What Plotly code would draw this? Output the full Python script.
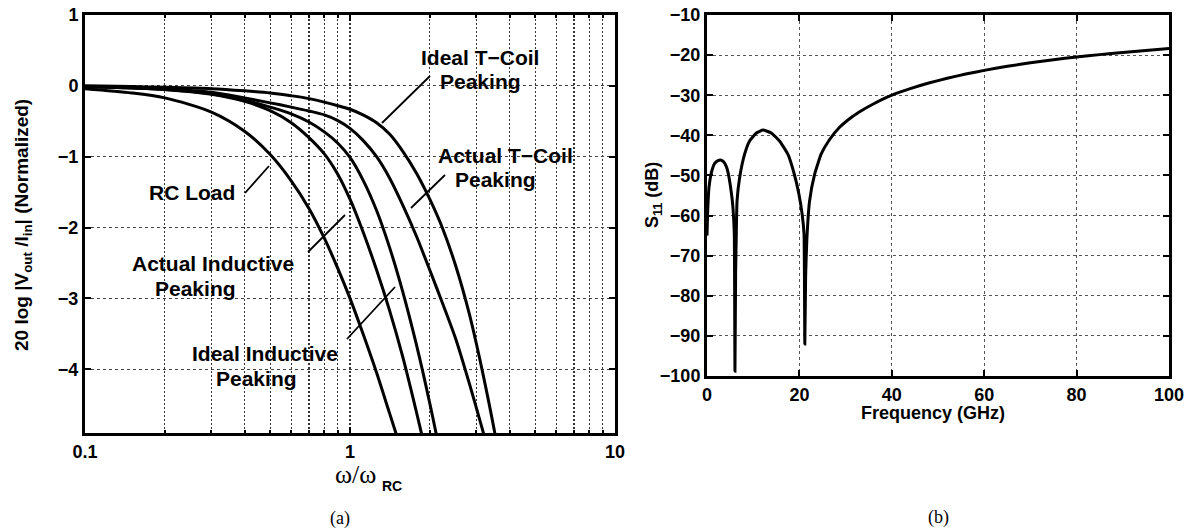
import plotly.graph_objects as go

W, H = 1188, 529

# ---------------- Panel (a): normalized transimpedance vs omega/omega_RC ----------------
w_rc = [0.1, 0.15, 0.2, 0.3, 0.4, 0.5, 0.6, 0.7, 0.8, 0.9, 1.0, 1.12, 1.26, 1.41, 1.58]
db_rc = [-0.04, -0.1, -0.17, -0.37, -0.64, -0.97, -1.34, -1.73, -2.15, -2.58, -3.0, -3.5, -4.05, -4.62, -5.2]

w_act_ind = [0.1, 0.15, 0.2, 0.3, 0.4, 0.5, 0.6, 0.7, 0.8, 0.9, 1.0, 1.12, 1.26, 1.41, 1.58, 1.78, 2.0]
db_act_ind = [-0.01, -0.03, -0.05, -0.12, -0.22, -0.35, -0.52, -0.73, -0.96, -1.25, -1.6, -2.06, -2.6, -3.17, -3.82, -4.6, -5.4]

w_ideal_ind = [0.1, 0.15, 0.2, 0.3, 0.4, 0.5, 0.6, 0.7, 0.8, 0.9, 1.0, 1.12, 1.26, 1.41, 1.58, 1.78, 2.0, 2.24]
db_ideal_ind = [-0.01, -0.03, -0.05, -0.11, -0.2, -0.3, -0.395, -0.51, -0.65, -0.81, -1.01, -1.33, -1.76, -2.28, -2.9, -3.65, -4.48, -5.37]

w_act_tc = [0.1, 0.15, 0.2, 0.3, 0.4, 0.5, 0.6, 0.7, 0.8, 0.9, 1.0, 1.12, 1.26, 1.41, 1.58, 1.78, 2.0, 2.24, 2.51, 2.82, 3.16, 3.4]
db_act_tc = [-0.01, -0.02, -0.04, -0.09, -0.17, -0.24, -0.3, -0.355, -0.41, -0.49, -0.6, -0.77, -1.0, -1.3, -1.68, -2.12, -2.6, -3.08, -3.58, -4.2, -4.85, -5.3]

w_ideal_tc = [0.1, 0.15, 0.2, 0.3, 0.4, 0.5, 0.6, 0.7, 0.8, 0.9, 1.0, 1.12, 1.26, 1.41, 1.58, 1.78, 2.0, 2.24, 2.51, 2.82, 3.16, 3.52, 3.7]
db_ideal_tc = [0.0, -0.01, -0.02, -0.04, -0.07, -0.1, -0.14, -0.18, -0.23, -0.28, -0.33, -0.41, -0.52, -0.68, -0.92, -1.23, -1.6, -2.02, -2.55, -3.22, -4.03, -4.9, -5.35]

a_xticks = [0.1, 1, 10]
a_xticktext = ["0.1", "1", "10"]
a_minor = [0.2, 0.3, 0.4, 0.5, 0.6, 0.7, 0.8, 0.9, 2, 3, 4, 5, 6, 7, 8, 9]
a_yticks = [1, 0, -1, -2, -3, -4]

# ---------------- Panel (b): S11 vs frequency ----------------
f_ghz = [0.0, 0.15, 0.43, 0.95, 1.66, 2.38, 3.1, 3.6, 4.19, 4.6, 5.05, 5.4, 5.62, 5.91, 6.05, 6.2, 6.34, 6.5,
         7.06, 8.14, 9.22, 10.7, 12.1, 13.9, 15.7, 17.5, 18.9, 19.9, 20.6, 21.0, 21.17,
         21.35, 21.6, 22.2, 23.3, 24.7, 26.5, 28.7, 31.5, 33.5, 35.9, 40.0, 44.0, 48.0, 52.0, 56.0,
         60.0, 65.0, 70.0, 75.0, 80.0, 85.0, 90.0, 95.0, 100.0]
s11_db = [-65.0, -58.8, -53.0, -49.3, -47.0, -46.3, -46.2, -46.6, -47.8, -49.5, -52.5, -55.5, -58.0, -64.6, -98.8, -74.0, -64.6, -56.4,
          -50.6, -44.7, -41.4, -39.4, -38.7, -39.4, -41.4, -44.7, -49.7, -54.7, -59.7, -64.6, -92.0,
          -75.0, -66.3, -56.4, -49.7, -44.7, -41.1, -38.0, -35.3, -33.8, -32.25, -30.0, -28.36, -26.96, -25.76, -24.72,
          -23.8, -22.8, -21.93, -21.15, -20.48, -19.88, -19.34, -18.84, -18.38]

b_xticks = [0, 20, 40, 60, 80, 100]
b_yticks = [-10, -20, -30, -40, -50, -60, -70, -80, -90, -100]

SANS = "Liberation Sans"
SERIF = "Liberation Serif"


def px(x):
    return x / W


def py(y):
    return 1 - y / H


fig = go.Figure()

for xs, ys in [(w_rc, db_rc), (w_act_ind, db_act_ind), (w_ideal_ind, db_ideal_ind),
               (w_act_tc, db_act_tc), (w_ideal_tc, db_ideal_tc)]:
    fig.add_trace(go.Scatter(x=xs, y=ys, mode="lines", xaxis="x", yaxis="y",
                             line=dict(color="black", width=3, shape="spline", smoothing=0.8),
                             showlegend=False, hoverinfo="skip"))

fig.add_trace(go.Scatter(x=f_ghz, y=s11_db, mode="lines", xaxis="x2", yaxis="y2",
                         line=dict(color="black", width=3, shape="spline", smoothing=0.4),
                         showlegend=False, hoverinfo="skip"))

tickfont = dict(family=SANS, size=18, color="black", weight="bold")
axcommon = dict(showline=True, linecolor="black", linewidth=3, mirror="ticks",
                ticks="inside", ticklen=6, tickwidth=2, tickcolor="black",
                zeroline=False, tickfont=tickfont, fixedrange=True, automargin=False,
                ticklabeloverflow="allow")

fig.update_layout(
    width=W, height=H, autosize=False,
    margin=dict(l=0, r=0, t=0, b=0, pad=0),
    paper_bgcolor="white", plot_bgcolor="white",
    xaxis=dict(axcommon, type="log", range=[-1, 1], domain=[px(85), px(615)], anchor="y",
               tickvals=a_xticks, ticktext=a_xticktext,
               showgrid=True, gridcolor="#333", gridwidth=1.2, griddash="2px,2px",
               minor=dict(tickvals=a_minor, showgrid=True, gridcolor="#333", gridwidth=1.2,
                          griddash="2px,2px", ticks="inside", ticklen=3, tickcolor="black")),
    yaxis=dict(axcommon, range=[-4.9, 1], domain=[py(433), py(15)], anchor="x",
               tickvals=a_yticks, showgrid=True, gridcolor="#444", gridwidth=1, griddash="dot"),
    xaxis2=dict(axcommon, range=[0, 100], domain=[px(707), px(1169)], anchor="y2",
                tickvals=b_xticks, showgrid=True, gridcolor="#555", gridwidth=1, griddash="dot"),
    yaxis2=dict(axcommon, range=[-100, -10], domain=[py(376), py(15)], anchor="x2",
                tickvals=b_yticks, showgrid=True, gridcolor="#555", gridwidth=1, griddash="dot"),
)

lab = dict(family=SANS, size=21, color="black", weight="bold")
annots = []


def add_text(text, x, y, font, angle=0, xanchor="center"):
    annots.append(dict(text=text, x=px(x), y=py(y), xref="paper", yref="paper",
                       showarrow=False, font=font, textangle=angle,
                       xanchor=xanchor, yanchor="middle"))


# curve labels (panel a)
add_text("Ideal T\u2212Coil", 480, 57, lab)
add_text("Peaking", 480, 81, lab)
add_text("Actual T\u2212Coil", 505, 155, lab)
add_text("Peaking", 495, 180, lab)
add_text("RC Load", 192, 192, lab)
add_text("Actual Inductive", 213, 263, lab)
add_text("Peaking", 195, 288, lab)
add_text("Ideal Inductive", 265, 353, lab)
add_text("Peaking", 256, 378, lab)

# axis titles
add_text("20 log |V<sub>out</sub> /I<sub>in</sub>| (Normalized)", 23, 225,
         dict(family=SANS, size=19, color="black", weight="bold"), angle=-90)
add_text("\u03c9/\u03c9", 355, 474, dict(family=SERIF, size=26, color="black"))
add_text("RC", 392, 486, dict(family=SANS, size=14, color="black", weight="bold"))
add_text("(a)", 340, 518, dict(family=SERIF, size=18, color="black"))

add_text("Frequency (GHz)", 933, 413, dict(family=SANS, size=18, color="black", weight="bold"))
add_text("S<sub>11</sub> (dB)", 654, 195, dict(family=SANS, size=18, color="black", weight="bold"), angle=-90)
add_text("(b)", 938, 517, dict(family=SERIF, size=18, color="black"))

fig.update_layout(annotations=annots)

# pointer lines from labels to curves (pixel positions)
pointers = [((245, 193), (269, 166)),
            ((308, 252), (345, 215)),
            ((347, 339), (395, 287)),
            ((382, 123), (430, 76)),
            ((411, 208), (445, 175))]
for (x0, y0), (x1, y1) in pointers:
    fig.add_shape(type="line", xref="paper", yref="paper",
                  x0=px(x0), y0=py(y0), x1=px(x1), y1=py(y1),
                  line=dict(color="black", width=1.8))

fig.write_html("out.html",
               config=dict(displayModeBar=False, staticPlot=True),
               post_script="document.body.style.margin='0px';document.body.style.overflow='hidden';")
